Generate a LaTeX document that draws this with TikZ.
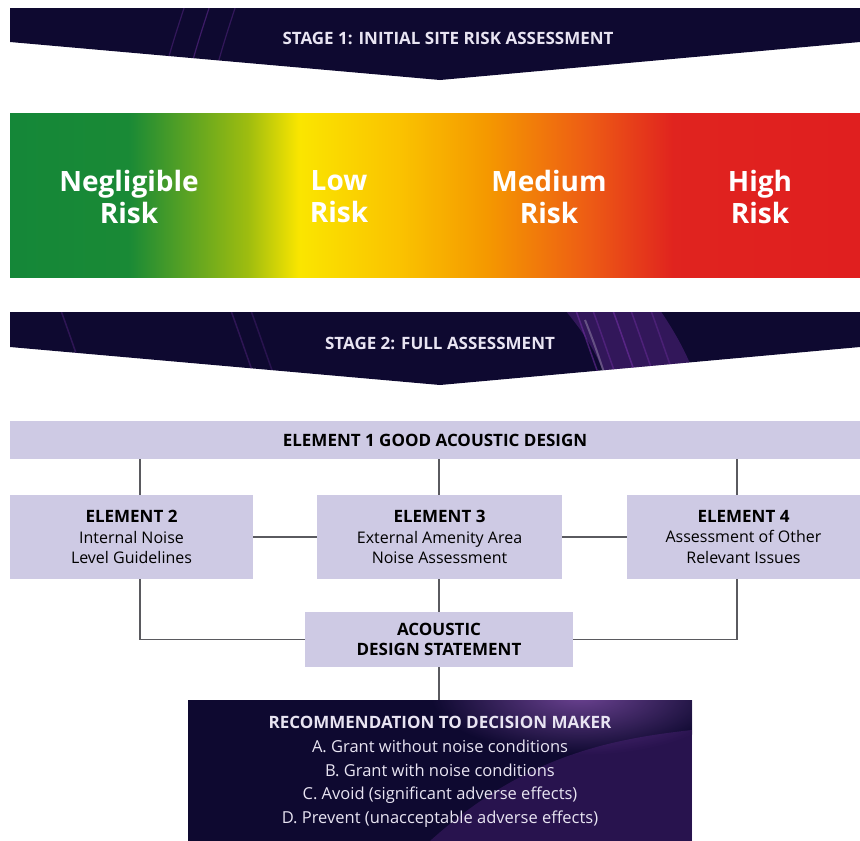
\documentclass[tikz,border=0pt]{standalone}
\usepackage{fontspec}
\setmainfont{Open Sans}
\usetikzlibrary{calc}
\definecolor{navy}{RGB}{14,9,48}
\definecolor{streak}{RGB}{120,50,170}
\definecolor{boxfill}{RGB}{206,202,228}
\definecolor{linkgray}{RGB}{90,90,95}
\definecolor{bannertext}{RGB}{232,228,242}
\pgfdeclarehorizontalshading{risk}{100bp}{%
rgb(0bp)=(0.08,0.53,0.22);
rgb(25bp)=(0.08,0.53,0.22);
rgb(32bp)=(0.10,0.54,0.21);
rgb(39bp)=(0.62,0.74,0.06);
rgb(42bp)=(0.98,0.90,0.00);
rgb(48bp)=(0.98,0.76,0.00);
rgb(53bp)=(0.96,0.60,0.00);
rgb(59bp)=(0.93,0.36,0.08);
rgb(64bp)=(0.88,0.14,0.12);
rgb(75bp)=(0.88,0.12,0.12);
rgb(100bp)=(0.88,0.12,0.12)}
\tikzset{
  banner/.style={fill=navy},
  bannerlabel/.style={text=bannertext,font=\bfseries\fontsize{17}{19}\selectfont,inner sep=0pt},
  risklabel/.style={text=white,font=\bfseries\fontsize{28}{32}\selectfont,align=center,inner sep=0pt},
  elbox/.style={fill=boxfill,draw=none,align=center,inner sep=0pt,
    font=\fontsize{16}{20.5}\selectfont},
  eltitle/.style={font=\bfseries\fontsize{17}{20}\selectfont},
  link/.style={draw=linkgray,line width=1.4pt},
  recbox/.style={fill=navy,inner sep=0pt},
}
\begin{document}
\begin{tikzpicture}[x=1pt,y=-1pt]
\useasboundingbox (0,0) rectangle (860,841);
\fill[white] (0,0) rectangle (860,841);

% Stage 1 banner
\path[banner] (10,8) -- (860,8) -- (860,42) -- (440,80) -- (10,42) -- cycle;
\begin{scope}
\clip (10,8) -- (860,8) -- (860,42) -- (440,80) -- (10,42) -- cycle;
\foreach \x/\o in {185/0.35,210/0.45,236/0.35}
  \draw[streak,opacity=\o,line width=1.2pt] (\x,5) .. controls (\x-8,30) and (\x-15,50) .. (\x-25,90);
\end{scope}
\node[bannerlabel] (s1) at (448,38) {STAGE 1: INITIAL SITE RISK ASSESSMENT};

% Risk gradient bar
\shade[shading=risk] (10,113) rectangle (860,277);
\node[risklabel] (neg) at (129,197) {Negligible\\Risk};
\node[risklabel] (low) at (339,197) {Low\\Risk};
\node[risklabel] (med) at (549,197) {Medium\\Risk};
\node[risklabel] (high) at (760,197) {High\\Risk};

% Stage 2 banner
\path[banner] (10,312) -- (860,312) -- (860,347) -- (440,385) -- (10,347) -- cycle;
\begin{scope}
\clip (10,312) -- (860,312) -- (860,347) -- (440,385) -- (10,347) -- cycle;
\fill[streak,opacity=0.35] (565,310) .. controls (590,340) and (600,360) .. (610,390) -- (700,390) .. controls (690,360) and (680,340) .. (660,310) -- cycle;
\foreach \x/\o in {575/0.5,592/0.4,612/0.55,630/0.4,650/0.35,60/0.3,230/0.3,250/0.25}
  \draw[streak,opacity=\o,line width=1.5pt] (\x,308) .. controls (\x+10,335) and (\x+18,360) .. (\x+30,392);
\draw[white,opacity=0.25,line width=2pt] (585,320) .. controls (595,345) and (600,360) .. (608,385);
\end{scope}
\node[bannerlabel] (s2) at (440,343) {STAGE 2: FULL ASSESSMENT};

% Element boxes
\node[elbox,minimum width=850,minimum height=38,eltitle] (e1) at (435,440) {ELEMENT 1 GOOD ACOUSTIC DESIGN};
\node[elbox,minimum width=243,minimum height=84] (e2) at (131.5,537) {{\bfseries\fontsize{17}{20}\selectfont ELEMENT 2}\\Internal Noise\\Level Guidelines};
\node[elbox,minimum width=245,minimum height=84] (e3) at (439.5,537) {{\bfseries\fontsize{17}{20}\selectfont ELEMENT 3}\\External Amenity Area\\Noise Assessment};
\node[elbox,minimum width=233,minimum height=84] (e4) at (743.5,537) {{\bfseries\fontsize{17}{20}\selectfont ELEMENT 4}\\Assessment of Other\\Relevant Issues};
\node[elbox,minimum width=268,minimum height=55,font=\bfseries\fontsize{17}{20}\selectfont] (ads) at (439,639.5) {ACOUSTIC\\DESIGN STATEMENT};

% Recommendation box
\node[recbox,minimum width=504,minimum height=141] (rec) at (440,770.5) {};
\begin{scope}
\clip (188,700) rectangle (692,841);
\shade[inner color=streak!80!white,outer color=navy,opacity=0.7] (580,695) ellipse (150 and 60);
\fill[streak,opacity=0.25] (430,841) .. controls (520,760) and (600,740) .. (692,730) -- (692,841) -- cycle;
\end{scope}
\node[text=bannertext,align=center,inner sep=0pt,font=\fontsize{16.5}{23.8}\selectfont] (rectext) at (440,772)
 {{\bfseries\fontsize{17}{23.8}\selectfont RECOMMENDATION TO DECISION MAKER}\\
  A. Grant without noise conditions\\
  B. Grant with noise conditions\\
  C. Avoid (significant adverse effects)\\
  D. Prevent (unacceptable adverse effects)};

% Connectors
\coordinate (c2) at (140,0);
\coordinate (c3) at (439,0);
\coordinate (c4) at (737,0);
\draw[link] (e1.south -| c2) -- (e2.north -| c2);
\draw[link] (e1.south -| c3) -- (e3.north -| c3);
\draw[link] (e1.south -| c4) -- (e4.north -| c4);
\draw[link] (e2.east) -- (e3.west);
\draw[link] (e3.east) -- (e4.west);
\draw[link] (e2.south -| c2) |- (ads.west);
\draw[link] (e4.south -| c4) |- (ads.east);
\draw[link] (e3.south -| c3) -- (ads.north -| c3);
\draw[link] (ads.south -| c3) -- (rec.north -| c3);
\end{tikzpicture}
\end{document}
